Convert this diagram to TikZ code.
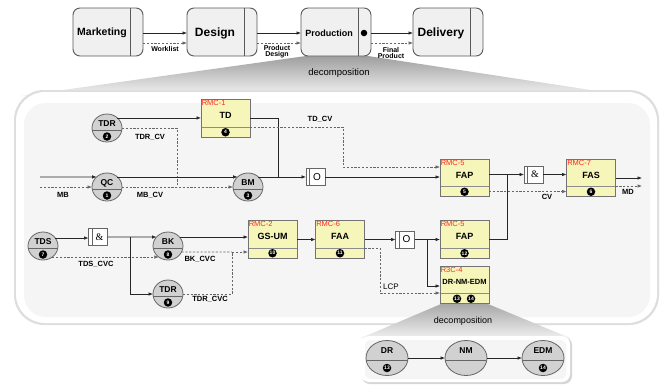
\documentclass[tikz,border=0pt]{standalone}
\usepackage{fontspec}
\setmainfont{Liberation Sans}
\setsansfont{Liberation Sans}
\newfontfamily\ampfont{Liberation Serif}
\usetikzlibrary{calc,arrows.meta,shapes.geometric}

\definecolor{boxyellow}{RGB}{246,246,186}
\definecolor{tagred}{RGB}{255,40,40}
\newcommand\myfs[1]{\fontsize{#1}{#1}\selectfont}

% event: ellipse split by a line, name above, numbered badge below
\newcommand\evnode[5]{%
  \node[evt] (#1) at (#2,#3) {};
  \node[evtxt] (#1-t) at ($(#1)+(0,-4)$) {#4};
  \node[badge] (#1-n) at ($(#1)+(0,8.5)$) {#5};
}
% large event used inside the lower container
\newcommand\evbig[5]{%
  \node[evtbig] (#1) at (#2,#3) {};
  \node[evtxt] (#1-t) at ($(#1)+(0,-7)$) {#4};
  \node[badge] (#1-n) at ($(#1)+(0,10)$) {#5};
}
% resource box with red tag, title and bottom strip
\newcommand\rmcbox[5]{%
  \node[rmc] (#1) at (#2,#3) {};
  \node[tag, anchor=north west] (#1-tag) at ($(#1.north west)+(0.8,0.8)$) {#4};
  \node[boxtitle] (#1-t) at ($(#1.north)+(0,16)$) {#5};
}

\begin{document}
\begin{tikzpicture}[x=1pt,y=-1pt,
  every node/.style={inner sep=0pt, outer sep=0pt},
  proc/.style={draw=black!65, fill=black!6, line width=0.9pt, rounded corners=7pt,
    minimum width=70pt, minimum height=48pt},
  pdiv/.style={draw=black!65, line width=0.9pt},
  evt/.style={ellipse, draw=black!60, fill=black!18, line width=0.8pt,
    minimum width=30pt, minimum height=28pt,
    path picture={\draw[black!60, line width=0.8pt]
      ([yshift=-2pt]path picture bounding box.west) -- ([yshift=-2pt]path picture bounding box.east);}},
  evtbig/.style={evt, minimum width=42pt, minimum height=35pt},
  evtxt/.style={font=\bfseries\myfs{8.5}},
  badge/.style={circle, fill=black, text=white, minimum size=8.5pt, font=\bfseries\myfs{5}},
  rmc/.style={draw=black!55, fill=boxyellow, line width=0.8pt,
    minimum width=49pt, minimum height=37.5pt,
    path picture={\draw[black!45, line width=1.3pt]
      ([yshift=10pt]path picture bounding box.south west) -- ([yshift=10pt]path picture bounding box.south east);}},
  tag/.style={text=tagred, font=\myfs{7.5}},
  boxtitle/.style={font=\bfseries\myfs{9}},
  gate/.style={draw=black!60, fill=white, line width=0.7pt, minimum width=19pt, minimum height=17pt,
    font=\myfs{10},
    path picture={\draw[black!60, line width=0.7pt]
      ([xshift=3.5pt]path picture bounding box.south west) -- ([xshift=3.5pt]path picture bounding box.north west);}},
  lab/.style={font=\bfseries\myfs{7.5}},
  line/.style={draw=black!85, line width=0.7pt},
  dline/.style={draw=black!60, line width=0.7pt, dash pattern=on 2.2pt off 1.6pt},
  flow/.style={line, -{Latex[length=4.5pt,width=3.6pt]}},
  dflow/.style={dline, -{Latex[length=4.5pt,width=3.6pt]}, draw=black!60},
]
\useasboundingbox (0,0) rectangle (666,384);
\fill[white] (0,0) rectangle (666,384);

% ---------- decomposition fan below Production ----------
\shade[top color=black!38, bottom color=black!4] (306,56) -- (368,56) -- (630,96) -- (20,96) -- cycle;
\node[font=\myfs{9.5}] (dec1) at (339,73) {decomposition};

% ---------- main container ----------
\fill[black!13, rounded corners=30pt] (14,90) rectangle (659,325);
\fill[white, rounded corners=29pt] (16,92) rectangle (657,323);
\fill[black!4, rounded corners=22pt] (24,103) rectangle (650,317);

% ---------- top value chain ----------
\node[proc] (mkt) at (108,32) {};
\draw[pdiv] ($(mkt.north east)+(-13,0)$) -- ($(mkt.south east)+(-13,0)$);
\node[font=\bfseries\myfs{10.5}] (mkt-t) at (102,33) {Marketing};

\node[proc] (dsg) at (222,32) {};
\draw[pdiv] ($(dsg.north east)+(-13,0)$) -- ($(dsg.south east)+(-13,0)$);
\node[font=\bfseries\myfs{12}] (dsg-t) at (215,33) {Design};

\node[proc] (prd) at (336,32) {};
\draw[pdiv] ($(prd.north east)+(-13,0)$) -- ($(prd.south east)+(-13,0)$);
\node[font=\bfseries\myfs{9}] (prd-t) at (329,33) {Production};
\node[circle, fill=black, minimum size=6.5pt] (prd-dot) at (364,33) {};

\node[proc] (dlv) at (448,32) {};
\draw[pdiv] ($(dlv.north east)+(-13,0)$) -- ($(dlv.south east)+(-13,0)$);
\node[font=\bfseries\myfs{12}] (dlv-t) at (441,33) {Delivery};

\draw[flow] ($(mkt.east)+(0,1)$) -- ($(dsg.west)+(0,1)$);
\draw[dflow] ($(mkt.east)+(0,11)$) -- ($(dsg.west)+(0,11)$);
\draw[flow] ($(dsg.east)+(0,1)$) -- ($(prd.west)+(0,1)$);
\draw[dflow] ($(dsg.east)+(0,11)$) -- ($(prd.west)+(0,11)$);
\draw[flow] ($(prd.east)+(0,1)$) -- ($(dlv.west)+(0,1)$);
\draw[dflow] ($(prd.east)+(0,11)$) -- ($(dlv.west)+(0,11)$);
\node[lab, font=\bfseries\myfs{7}] (wl) at (165,49) {Worklist};
\node[lab, font=\bfseries\myfs{7}, align=center] (pdsg) at (277,52) {Product\\[-1pt]Design};
\node[lab, font=\bfseries\myfs{7}, align=center] (fprd) at (391,53) {Final\\[-1pt]Product};

% ---------- events ----------
\evnode{tdrA}{107}{128}{TDR}{2}
\evnode{qc}{107}{187}{QC}{1}
\evnode{bm}{248}{187}{BM}{3}
\evnode{tds}{43}{246}{TDS}{7}
\evnode{bk}{168}{246}{BK}{8}
\evnode{tdrB}{168}{294}{TDR}{9}

% ---------- resource boxes ----------
\rmcbox{td}{225.5}{118.5}{RMC-1}{TD}
\node[badge] (td-n) at ($(td.south)+(0,-5)$) {4};
\rmcbox{fapA}{464.5}{178}{RMC-5}{FAP}
\node[badge] (fapA-n) at ($(fapA.south)+(0,-5)$) {5};
\rmcbox{fas}{591}{178}{RMC-7}{FAS}
\node[badge] (fas-n) at ($(fas.south)+(0,-5)$) {6};
\rmcbox{gsum}{272.5}{239.5}{RMC-2}{GS-UM}
\node[badge] (gsum-n) at ($(gsum.south)+(0,-5)$) {10};
\rmcbox{faa}{340}{239.5}{RMC-6}{FAA}
\node[badge] (faa-n) at ($(faa.south)+(0,-5)$) {11};
\rmcbox{fapB}{464.5}{239.5}{RMC-5}{FAP}
\node[badge] (fapB-n) at ($(fapB.south)+(0,-5)$) {12};
\rmcbox{dnm}{464.5}{285}{R3C-4}{\myfs{7.5}DR-NM-EDM}
\node[badge] (dnm-n1) at ($(dnm.south)+(-7.5,-5)$) {13};
\node[badge] (dnm-n2) at ($(dnm.south)+(6.5,-5)$) {14};

% ---------- gates ----------
\node[gate] (orA) at (315.5,177) {\kern3pt O};
\node[gate] (andA) at (533.5,174.5) {\kern3pt{\ampfont\&}};
\node[gate] (andB) at (98,237) {\kern3pt{\ampfont\&}};
\node[gate] (orB) at (405,239.5) {\kern3pt O};

% ---------- junctions and free ends ----------
\coordinate (inS) at (40,177);
\coordinate (inD) at (40,187);
\coordinate (j1) at (177,187);
\coordinate (j2) at (278,177);
\coordinate (k1) at (343,167);
\coordinate (j3) at (507,174.5);
\coordinate (outS) at (642,178);
\coordinate (outD) at (642,186);
\coordinate (j4) at (130,237);
\coordinate (j5) at (232,252);
\coordinate (j6) at (427,239.5);
\coordinate (k2) at (380,293);

% ---------- upper flows ----------
\draw[flow] (inS) -- (qc.136);
\draw[dflow] (inD) -- (qc.west);
\draw[flow] (tdrA.44) -- (tdrA.44 -| td.west);
\draw[dline] (tdrA.east) -| (j1);
\draw[dflow] (qc.east) -- (bm.west);
\draw[flow] (qc.44) -- (bm.136);
\draw[flow] (bm.44) -- (bm.44 -| orA.west);
\draw[line] (td.east) -| (j2);
\draw[dflow] ($(td.east)+(0,8.5)$) -| (k1) -- (k1 -| fapA.west);
\draw[flow] (orA.east) -- (orA.east -| fapA.west);
\draw[flow] ($(fapA.east)+(0,-3.5)$) -- (andA.west);
\draw[line] (fapB.east) -| (j3);
\draw[dflow] ($(fapA.east)+(0,13.5)$) -- ($(fas.west)+(0,13.5)$);
\draw[flow] (andA.east) -- (andA.east -| fas.west);
\draw[flow] (fas.east) -- (outS);
\draw[dflow] ($(fas.east)+(0,8)$) -- (outD);

% ---------- lower flows ----------
\draw[flow] (tds.33) -- (tds.33 -| andB.west);
\draw[dflow] (tds.-50) -- (bk.230);
\draw[flow] (andB.east) -- (bk.142);
\draw[flow] (j4) |- (tdrB.west);
\draw[flow] (bk.38) -- (bk.38 -| gsum.west);
\draw[dline] (bk.-24) -- (j5);
\draw[dflow] (tdrB.east) -| (j5) -- (j5 -| gsum.west);
\draw[flow] (gsum.east) -- (faa.west);
\draw[flow] (faa.east) -- (orB.west);
\draw[flow] (orB.east) -- (fapB.west);
\draw[flow] (j6) |- ($(dnm.west)+(0,1)$);
\draw[dflow] ($(faa.east)+(0,8.5)$) -| (k2) -- (k2 -| dnm.west);

% ---------- flow labels ----------
\node[lab] (l-tdrcv) at (150,137) {TDR\_CV};
\node[lab] (l-mb) at (63,195) {MB};
\node[lab] (l-mbcv) at (150,195) {MB\_CV};
\node[lab] (l-tdcv) at (320,119) {TD\_CV};
\node[lab] (l-cv) at (547,197) {CV};
\node[lab] (l-md) at (628,192) {MD};
\node[lab] (l-tdscvc) at (96,264) {TDS\_CVC};
\node[lab] (l-bkcvc) at (200,259) {BK\_CVC};
\node[lab] (l-tdrcvc) at (210,299) {TDR\_CVC};
\node[lab, font=\myfs{8}] (l-lcp) at (391,287) {LCP};

% ---------- decomposition of DR-NM-EDM ----------
\shade[top color=black!34, bottom color=black!6] (441,304) -- (488,304) -- (570,338) -- (361,338) -- cycle;
\node[font=\myfs{9}] (dec2) at (463,321) {decomposition};
\fill[black!16, rounded corners=8pt] (362,337) rectangle (572,384);
\fill[white, rounded corners=8pt] (361,336) rectangle (570,382);
\fill[black!4, rounded corners=6pt] (365,340) rectangle (566,379);

\evbig{dr}{387}{358}{DR}{13}
\node[evtbig] (nm) at (466,358) {};
\node[evtxt] (nm-t) at ($(nm)+(0,-7)$) {NM};
\evbig{edm}{543}{358}{EDM}{14}
\draw[flow] (dr.east) -- (nm.west);
\draw[flow] (nm.east) -- (edm.west);
\end{tikzpicture}
\end{document}
